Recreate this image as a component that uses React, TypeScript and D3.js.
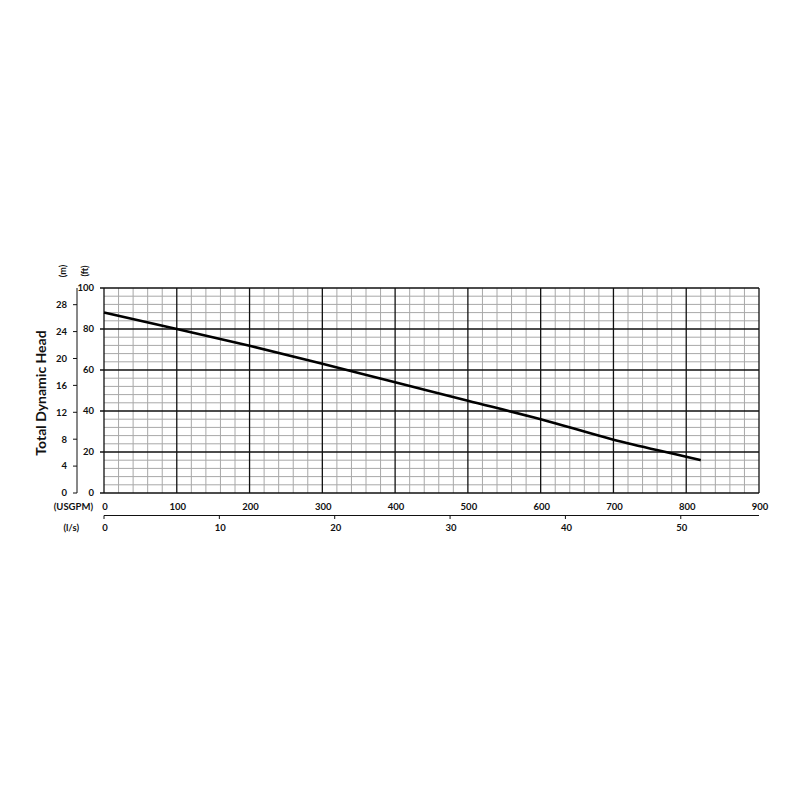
import * as d3 from 'd3';

// pump curve: flow (USGPM) vs head (ft)
const flowUsgpm = [0, 100, 200, 300, 400, 500, 600, 700, 800, 820];
const headFt = [88, 80, 71.8, 63, 54, 45, 36, 26, 17.7, 16];

const ftTicks = [0, 20, 40, 60, 80, 100];
const mTicks = [0, 4, 8, 12, 16, 20, 24, 28];
const usgpmTicks = [0, 100, 200, 300, 400, 500, 600, 700, 800, 900];
const lsTicks = [0, 10, 20, 30, 40, 50];

const FT_PER_M = 3.28084;
const USGPM_PER_LS = 15.850323;

const left = 104;
const right = 759;
const top = 288;
const bottom = 493;

const font = 'Lato, "Open Sans", sans-serif';

const App = () => {
  const x = d3.scaleLinear().domain([0, 900]).range([left, right]);
  const y = d3.scaleLinear().domain([0, 100]).range([bottom, top]);
  const yM = d3.scaleLinear().domain([0, 100 / FT_PER_M]).range([bottom, top]);
  const xL = d3.scaleLinear().domain([0, 900 / USGPM_PER_LS]).range([left, right]);

  const minorX = d3.range(0, 901, 20).filter(v => v % 100 !== 0);
  const minorY = d3.range(0, 101, 4).filter(v => v % 20 !== 0);

  const line = d3
    .line<number>()
    .x((_, i) => x(flowUsgpm[i]))
    .y(d => y(d))
    .curve(d3.curveMonotoneX);

  const mAxisX = 77;

  return (
    <svg width={800} height={800} style={{ position: 'absolute', left: 0, top: 0, background: '#fff' }}>
      <rect x={0} y={0} width={800} height={800} fill="#fff" />

      {/* minor grid */}
      {minorX.map(v => (
        <line key={'mx' + v} x1={x(v)} x2={x(v)} y1={top} y2={bottom} stroke="#a8a8a8" strokeWidth={1} />
      ))}
      {minorY.map(v => (
        <line key={'my' + v} x1={left} x2={right} y1={y(v)} y2={y(v)} stroke="#a8a8a8" strokeWidth={1} />
      ))}

      {/* major grid */}
      {usgpmTicks.map(v => (
        <line key={'gx' + v} x1={x(v)} x2={x(v)} y1={top} y2={bottom} stroke="#111" strokeWidth={1.3} />
      ))}
      {ftTicks.map(v => (
        <line key={'gy' + v} x1={left - 4} x2={right} y1={y(v)} y2={y(v)} stroke="#111" strokeWidth={1.3} />
      ))}

      {/* pump curve */}
      <path d={line(headFt) ?? ''} fill="none" stroke="#000" strokeWidth={2.6} />

      {/* ft labels */}
      {ftTicks.map(v => (
        <text key={'ft' + v} x={94} y={y(v)} dy="0.35em" textAnchor="end" fontFamily={font} fontWeight="bold" fontSize={9.5} fill="#111">
          {v}
        </text>
      ))}

      {/* metre axis */}
      <line x1={mAxisX} x2={mAxisX} y1={top} y2={bottom} stroke="#111" strokeWidth={1} />
      {mTicks.map(v => (
        <g key={'m' + v}>
          <line x1={mAxisX - 4} x2={mAxisX} y1={yM(v)} y2={yM(v)} stroke="#111" strokeWidth={1} />
          <text x={67} y={yM(v)} dy="0.35em" textAnchor="end" fontFamily={font} fontWeight="bold" fontSize={9.5} fill="#111">
            {v}
          </text>
        </g>
      ))}

      {/* USGPM labels */}
      {usgpmTicks.map(v => (
        <text key={'q' + v} x={x(v) + 1} y={507} dy="0.35em" textAnchor="middle" fontFamily={font} fontWeight="bold" fontSize={9.5} fill="#111">
          {v}
        </text>
      ))}
      <text x={93} y={507} dy="0.35em" textAnchor="end" fontFamily={font} fontWeight="bold" fontSize={9.5} fill="#111">
        (USGPM)
      </text>

      {/* l/s axis */}
      <line x1={left} x2={right} y1={515.5} y2={515.5} stroke="#111" strokeWidth={1} />
      {lsTicks.map(v => (
        <g key={'l' + v}>
          <line x1={xL(v)} x2={xL(v)} y1={515.5} y2={519} stroke="#111" strokeWidth={1} />
          <text x={xL(v) + 1} y={528} dy="0.35em" textAnchor="middle" fontFamily={font} fontWeight="bold" fontSize={9.5} fill="#111">
            {v}
          </text>
        </g>
      ))}
      <text x={79} y={528} dy="0.35em" textAnchor="end" fontFamily={font} fontWeight="bold" fontSize={9.5} fill="#111">
        (l/s)
      </text>

      {/* unit labels */}
      <text transform="translate(63,271) rotate(-90)" dy="0.35em" textAnchor="middle" fontFamily={font} fontWeight="bold" fontSize={9} fill="#111">
        (m)
      </text>
      <text transform="translate(85,271) rotate(-90)" dy="0.35em" textAnchor="middle" fontFamily={font} fontWeight="bold" fontSize={9} fill="#111">
        (ft)
      </text>

      {/* title */}
      <text transform="translate(41,393) rotate(-90)" dy="0.35em" textAnchor="middle" fontFamily={font} fontWeight="bold" fontSize={14} fill="#111">
        Total Dynamic Head
      </text>
    </svg>
  );
};

export default App;
